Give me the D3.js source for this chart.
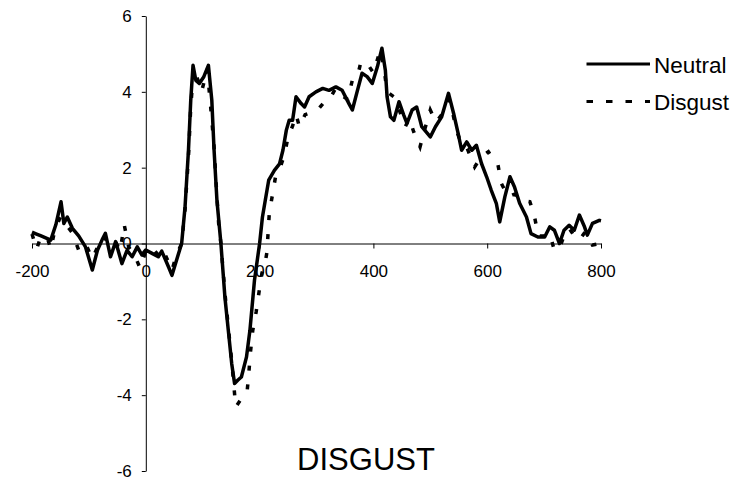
<!DOCTYPE html>
<html>
<head>
<meta charset="utf-8">
<script src="https://cdn.jsdelivr.net/npm/d3@7"></script>
<style>
  html, body { margin: 0; padding: 0; background: #fff; }
  svg { display: block; }
  text { font-family: "Liberation Sans", Arial, sans-serif; fill: #000; }
</style>
</head>
<body>
<svg id="chart" width="754" height="482"></svg>
<script>
// ---- data ----
const xTicks = [-200, 0, 200, 400, 600, 800];
const yTicks = [-6, -4, -2, 0, 2, 4, 6];
const seriesNames = ["Neutral", "Disgust"];
const titleText = "DISGUST";

const neutralTime = [-200,-192,-184,-176,-167,-158,-149,-144,-138,-129,-118,-106,-94,-85,-77,-71,-62,-53,-42,-33,-24,-15,-7,0,11,22,28,40,46,54,63,69,75,79,83,88,94,102,110,116,120,125,132,139,145,151,156,162,168,177,183,191,200,205,210,216,226,235,241,247,252,258,264,273,279,287,299,311,322,334,345,357,363,372,380,389,398,407,415,421,424,430,436,445,453,459,468,476,485,500,509,520,532,541,549,555,564,573,581,590,599,607,616,622,631,640,648,657,669,677,689,701,710,718,727,735,744,753,762,771,776,785,797,800];
const neutralValue = [0.3,0.25,0.2,0.15,0.09,0.5,1.1,0.53,0.7,0.4,0.2,-0.09,-0.7,-0.18,0.09,0.27,-0.35,0.05,-0.53,-0.18,-0.35,-0.09,-0.3,-0.17,-0.26,-0.35,-0.2,-0.62,-0.84,-0.44,0,0.97,2.46,3.78,4.7,4.3,4.22,4.4,4.7,3.78,2.46,1.14,0,-1.41,-2.29,-3.17,-3.69,-3.6,-3.52,-2.99,-2.29,-0.97,0,0.7,1.14,1.67,1.93,2.1,2.46,2.99,3.25,3.25,3.87,3.69,3.6,3.87,4.0,4.09,4.04,4.13,4.04,3.69,3.52,4.04,4.49,4.4,4.22,4.66,5.15,4.57,3.87,3.34,3.25,3.74,3.4,3.17,3.52,3.6,3.08,2.81,3.08,3.34,3.96,3.43,2.9,2.46,2.68,2.46,2.59,2.11,1.76,1.41,1.06,0.57,1.23,1.76,1.49,1.06,0.7,0.26,0.17,0.17,0.44,0.35,0,0.35,0.48,0.35,0.75,0.44,0.22,0.53,0.61,0.6];

const disgustTime = [-200,-192,-184,-172,-167,-160,-150,-140,-130,-118,-106,-94,-85,-75,-65,-55,-45,-38,-30,-20,-10,0,10,22,30,40,46,54,63,69,75,79,84,92,98,108,114,117,120,124,128,132,139,145,151,158,164,172,178,181,184,188,194,199,204,210,213,215,217,223,228,236,243,250,258,264,270,280,293,302,312,322,334,345,355,363,372,378,389,400,412,418,424,436,446,456,463,471,482,490,500,510,520,532,540,546,555,565,578,590,602,612,619,625,637,648,660,675,682,690,700,710,718,727,735,744,753,762,772,785,800];
const disgustValue = [0.25,-0.15,0.2,0.1,-0.15,0.35,0.7,0.5,0.3,-0.17,0.0,-0.4,-0.1,0.2,0.0,0.1,-0.2,0.5,-0.1,-0.3,-0.65,-0.2,-0.1,-0.3,-0.15,-0.5,-0.7,-0.3,0.0,0.9,2.3,3.6,4.6,4.3,4.0,4.6,3.6,3.08,2.55,1.49,0.53,0,-1.3,-2.2,-3.1,-4.31,-4.18,-4.0,-3.92,-3.43,-2.86,-2.29,-1.8,-1.28,-0.79,-0.49,-0.22,0.31,0.79,1.32,1.76,2.0,2.3,2.8,3.1,3.4,3.08,3.4,3.47,3.52,3.7,3.78,4.1,3.9,3.8,4.31,4.4,4.79,4.75,4.5,5.1,4.7,4.0,3.87,3.5,3.08,3.3,2.94,2.55,3.0,3.52,3.2,3.4,3.8,3.4,2.99,2.6,2.5,2.02,2.3,2.42,2.2,2.07,1.58,1.23,1.3,1.14,1.1,0.79,0.2,0.2,0.26,-0.18,-0.13,0.2,0.4,0.2,0.09,0.3,-0.04,0.0];

// ---- chart ----
const svg = d3.select("#chart");
const x = d3.scaleLinear().domain([-200, 800]).range([32, 601]);
const y = d3.scaleLinear().domain([-6, 6]).range([471, 16]);

const neutral = neutralTime.map((t, i) => ({ t, v: neutralValue[i] }));
const disgust = disgustTime.map((t, i) => ({ t, v: disgustValue[i] }));
const fmt = d => String(d); // plain hyphen-minus like the reference

// Y axis at x = 0
const yAxis = svg.append("g")
  .attr("transform", `translate(${x(0)},0)`)
  .call(d3.axisLeft(y).tickValues(yTicks).tickSize(4).tickSizeOuter(0).tickPadding(10).tickFormat(fmt));
yAxis.selectAll("text").style("font-size", "17px").style("font-family", '"Liberation Sans", Arial, sans-serif').attr("fill", "#000");
yAxis.select(".domain").attr("stroke", "#000");
yAxis.selectAll(".tick line").attr("stroke", "#000");

// X axis at y = 0
const xAxis = svg.append("g")
  .attr("transform", `translate(0,${y(0)})`)
  .call(d3.axisBottom(x).tickValues(xTicks).tickSize(5).tickSizeOuter(0).tickPadding(16).tickFormat(fmt));
xAxis.selectAll("text").style("font-size", "17px").style("font-family", '"Liberation Sans", Arial, sans-serif').attr("fill", "#000");
xAxis.select(".domain").attr("stroke", "#000");
xAxis.selectAll(".tick line").attr("stroke", "#000");

const line = d3.line().x(d => x(d.t)).y(d => y(d.v));

svg.append("path").datum(neutral)
  .attr("d", line)
  .attr("fill", "none").attr("stroke", "#000").attr("stroke-width", 3.5)
  .attr("stroke-linejoin", "round");

svg.append("path").datum(disgust)
  .attr("d", line)
  .attr("fill", "none").attr("stroke", "#000").attr("stroke-width", 3.5)
  .attr("stroke-dasharray", "5,14");

// Legend
const legend = svg.append("g");
const legendRows = [
  { name: seriesNames[0], dash: null, y: 64 },
  { name: seriesNames[1], dash: "6.5,13", y: 101.5 }
];
legendRows.forEach(r => {
  legend.append("line")
    .attr("x1", 586.5).attr("x2", 650).attr("y1", r.y).attr("y2", r.y)
    .attr("stroke", "#000").attr("stroke-width", 3.2)
    .attr("stroke-dasharray", r.dash);
  legend.append("text")
    .attr("x", 654).attr("y", r.y + 8.5)
    .style("font-size", "22.5px")
    .text(r.name);
});

// Title
svg.append("text")
  .attr("x", 366).attr("y", 470)
  .attr("text-anchor", "middle")
  .style("font-size", "31px")
  .text(titleText);
</script>
</body>
</html>
